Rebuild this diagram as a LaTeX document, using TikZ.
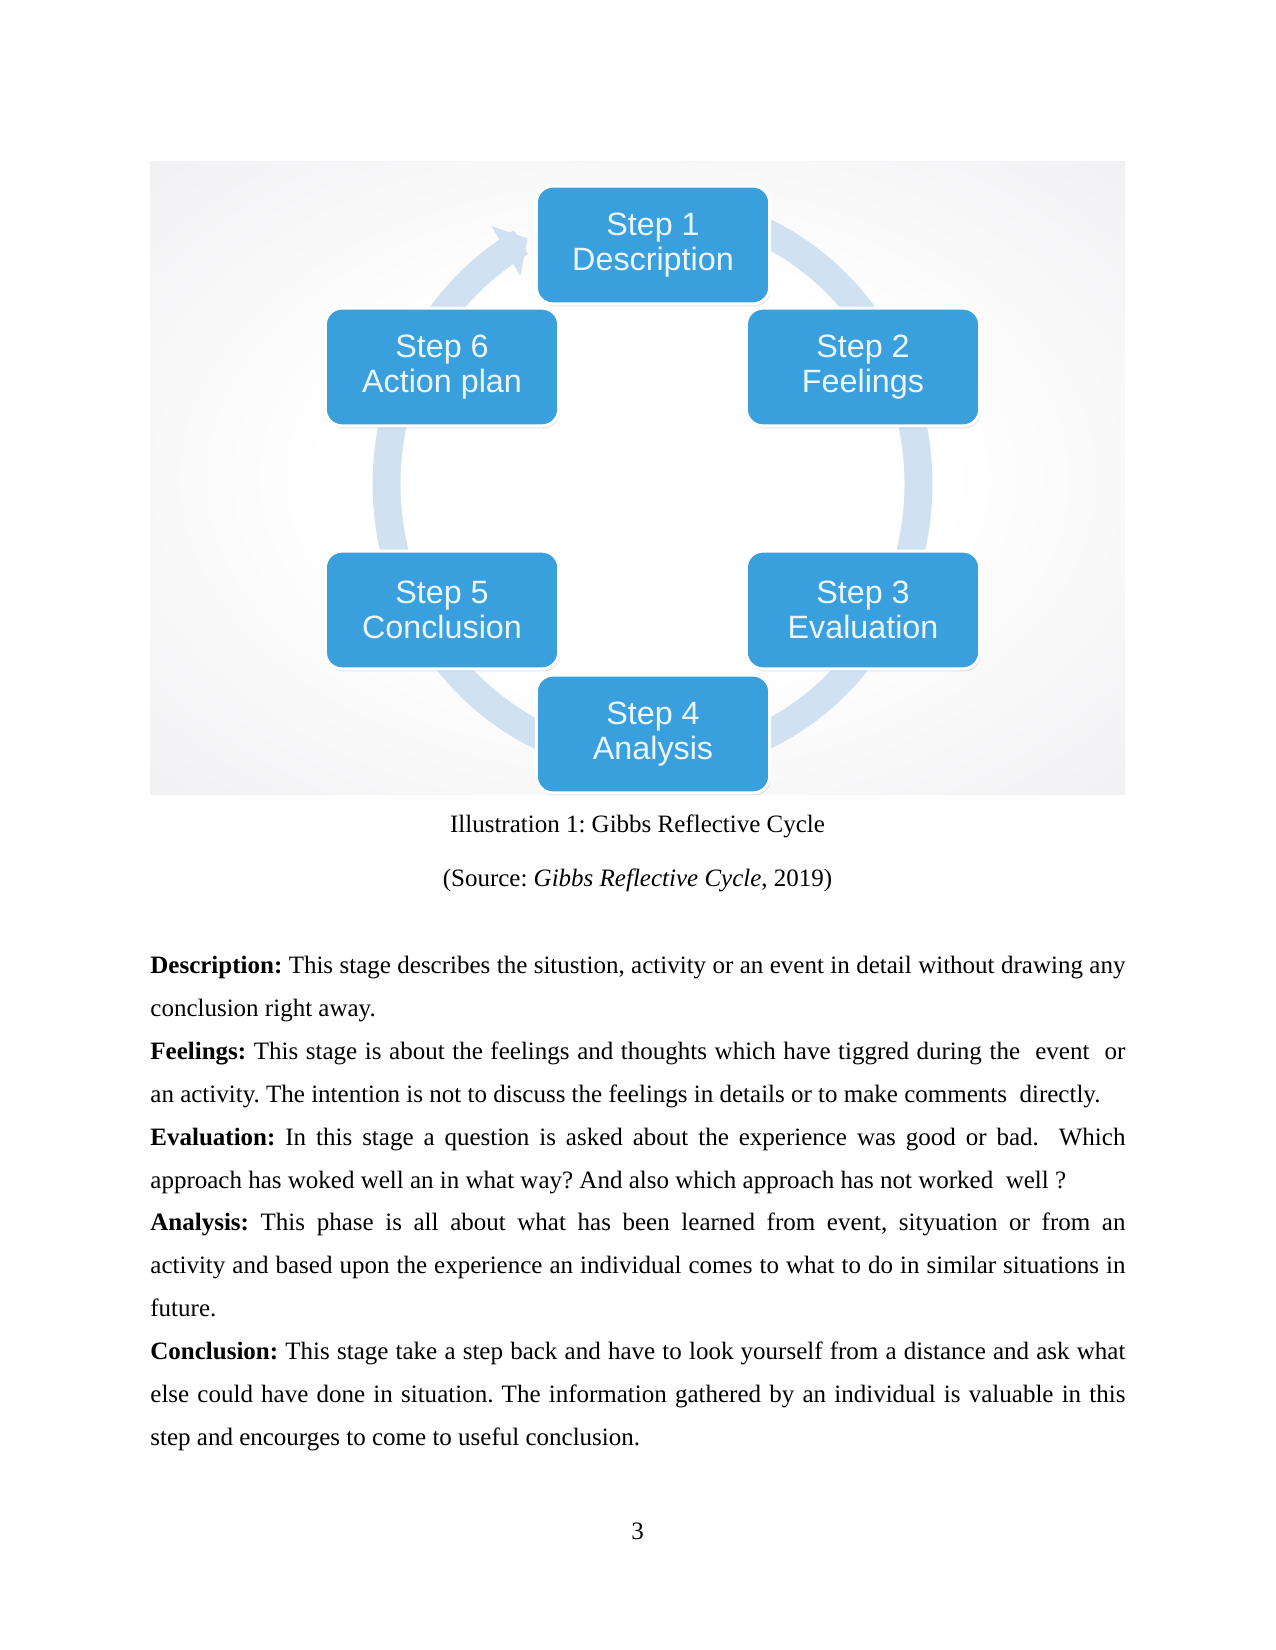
\documentclass[tikz,border=0pt]{standalone}
\usepackage{fontspec}
\setmainfont{Liberation Serif}
\newfontfamily\boxfont{Liberation Sans}
\usetikzlibrary{arrows.meta,shadows}
\setlength{\parindent}{0pt}
\frenchspacing
\definecolor{bgc}{RGB}{231,230,234}
\definecolor{stepblue}{RGB}{58,159,221}
\definecolor{ringc}{RGB}{208,225,242}
\definecolor{steptext}{RGB}{236,247,253}
\pgfdeclareradialshading{bgshade}{\pgfpoint{0bp}{0bp}}{color(0bp)=(white); color(16bp)=(white); color(50bp)=(bgc); color(75bp)=(bgc)}
\begin{document}
\begin{tikzpicture}[x=0.48pt,y=-0.48pt,
  stepbox/.style={draw=white, line width=1.4pt, fill=stepblue, rounded corners=8pt,
    minimum width=112pt, minimum height=56.5pt, inner sep=0pt, align=center,
    text=steptext, font=\boxfont\fontsize{15.5}{16.5}\selectfont,
    drop shadow={shadow xshift=0.6pt, shadow yshift=-1.2pt, opacity=0.2}},
  ring/.style={draw=ringc, line width=13.4pt},
  captext/.style={anchor=base, inner sep=0pt, font=\fontsize{12}{14}\selectfont},
  bodytext/.style={anchor=north west, inner sep=0pt, text width=468pt, align=justify,
    font=\fontsize{12}{20.6}\selectfont}]
\useasboundingbox (0,0) rectangle (1275,1650);
\fill[white] (0,0) rectangle (1275,1650);
\shade[shading=bgshade] (150,162) rectangle (1125,794);
\draw[ring, -{Triangle[width=27pt,length=12pt]}] plot[domain=-90:242, samples=200, variable=\t] ({652.5+266*cos(\t)},{484+278*sin(\t)});
\node[stepbox] (s1) at (653,245) {Step 1\\Description};
\node[stepbox] (s2) at (863,367) {Step 2\\Feelings};
\node[stepbox] (s3) at (863,610) {Step 3\\Evaluation};
\node[stepbox] (s4) at (653,734) {Step 4\\Analysis};
\node[stepbox] (s5) at (442,610) {Step 5\\Conclusion};
\node[stepbox] (s6) at (442,367) {Step 6\\Action plan};
\node[captext] (cap) at (637.5,832) {Illustration 1: Gibbs Reflective Cycle};
\node[captext] (src) at (637.5,886) {(Source: \textit{Gibbs Reflective Cycle}, 2019)};
\node[bodytext] (body) at (150,943) {\hyphenpenalty=10000 \exhyphenpenalty=10000 \tolerance=9999 \strut\textbf{Description:} This stage describes the situstion, activity or an event in detail without drawing any\linebreak conclusion right away.\par
\textbf{Feelings:} This stage is about the feelings and thoughts which have tiggred during the\ \ event\ \ or\linebreak an activity. The intention is not to discuss the feelings in details or to make comments\ \ directly.\par
\textbf{Evaluation:} In this stage a question is asked about the experience was good or bad.\ \ Which\linebreak approach has woked well an in what way? And also which approach has not worked\ \ well ?\par
\textbf{Analysis:} This phase is all about what has been learned from event, sityuation or from an\linebreak activity and based upon the experience an individual comes to what to do in similar situations in\linebreak future.\par
\textbf{Conclusion:} This stage take a step back and have to look yourself from a distance and ask what\linebreak else could have done in situation. The information gathered by an individual is valuable in this\linebreak step and encourges to come to useful conclusion.};
\node[captext] (pg) at (637.5,1539) {3};
\end{tikzpicture}
\end{document}
